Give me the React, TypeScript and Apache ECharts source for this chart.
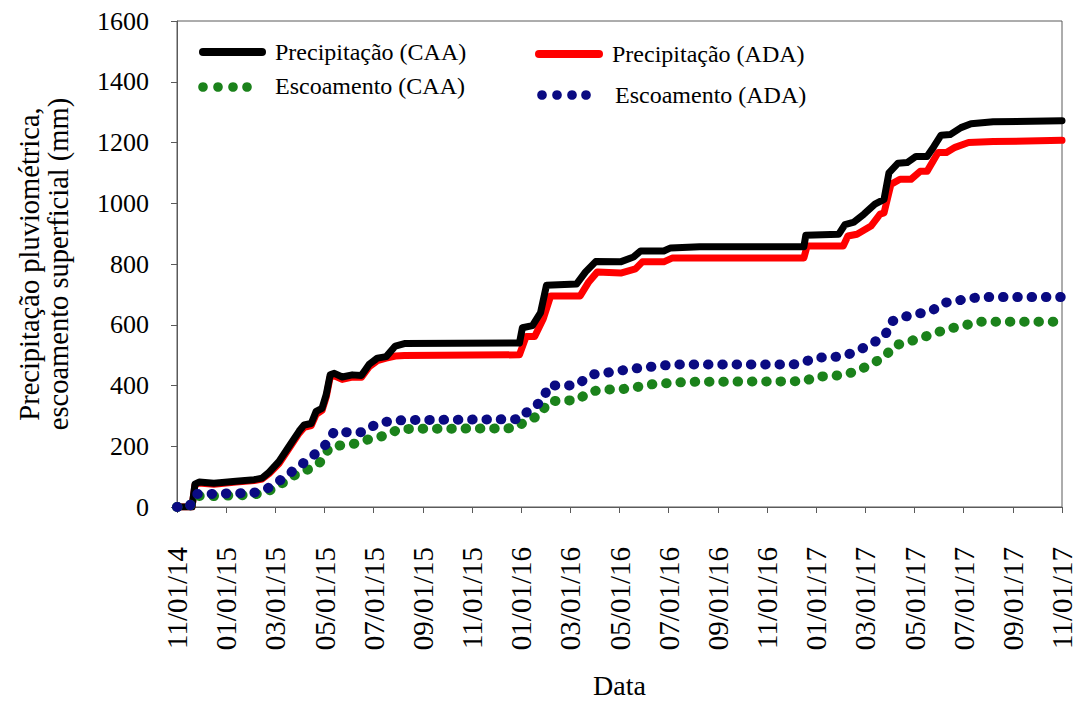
import React, { useEffect, useRef } from "react";
import * as echarts from "echarts";

// x = months since 11/01/14
const tickLabels = [
  "11/01/14", "01/01/15", "03/01/15", "05/01/15", "07/01/15", "09/01/15", "11/01/15",
  "01/01/16", "03/01/16", "05/01/16", "07/01/16", "09/01/16", "11/01/16",
  "01/01/17", "03/01/17", "05/01/17", "07/01/17", "09/01/17", "11/01/17",
];

const precipCAA: [number, number][] = [
  [0, 0], [0.49, 0], [0.61, 0], [0.73, 75], [0.9, 82], [1.5, 78], [2.4, 85], [3.14, 90], [3.46, 95],
  [3.75, 115], [4.15, 150], [4.56, 200], [4.97, 250], [5.17, 270], [5.46, 275], [5.66, 315], [5.9, 325],
  [6.07, 370], [6.23, 435], [6.4, 440], [6.72, 428], [7.13, 435], [7.5, 433], [7.82, 470], [8.15, 490],
  [8.51, 495], [8.88, 530], [9.25, 538], [13.93, 540], [14.05, 590], [14.46, 597], [14.79, 640],
  [15.03, 730], [16.25, 734], [16.62, 774], [17.03, 808], [18.04, 807], [18.57, 823], [18.86, 843],
  [19.8, 843], [20.08, 853], [21.26, 857], [25.5, 857], [25.58, 895], [26.92, 898], [27.17, 930],
  [27.54, 938], [27.94, 964], [28.39, 997], [28.76, 1013], [28.96, 1100], [29.33, 1132], [29.7, 1134],
  [30.06, 1154], [30.51, 1154], [30.79, 1187], [31.08, 1224], [31.45, 1226], [31.89, 1249],
  [32.3, 1262], [33.2, 1268], [36, 1272],
];

const precipADA: [number, number][] = [
  [0, 0], [0.49, 0], [0.61, 0], [0.73, 72], [0.9, 79], [1.5, 75], [2.4, 82], [3.14, 87], [3.46, 92],
  [3.75, 110], [4.15, 143], [4.56, 193], [4.97, 243], [5.17, 262], [5.46, 268], [5.66, 305], [5.9, 318],
  [6.07, 362], [6.23, 428], [6.4, 432], [6.72, 420], [7.13, 428], [7.5, 427], [7.82, 462], [8.15, 482],
  [8.51, 490], [8.88, 497], [9.25, 499], [13.93, 501], [14.2, 561], [14.55, 561], [14.9, 620],
  [15.2, 695], [16.4, 695], [16.75, 741], [17.1, 774], [18.05, 770], [18.65, 784], [18.93, 807],
  [19.8, 807], [20.16, 820], [25.5, 820], [25.63, 859], [27.1, 859], [27.29, 892], [27.66, 898],
  [28.23, 925], [28.6, 964], [28.76, 968], [29.04, 1062], [29.41, 1079], [29.86, 1079], [30.23, 1105],
  [30.51, 1105], [30.96, 1167], [31.3, 1167], [31.65, 1184], [32.2, 1200], [33.2, 1203], [36, 1207],
];

const runoffCAA: [number, number][] = [
  [0, 0], [0.5, 0], [0.75, 36], [1.4, 36], [2.2, 38], [3.1, 40], [3.74, 53], [4.28, 78], [4.85, 108],
  [5.46, 128], [5.9, 152], [6.19, 196], [6.72, 204], [7.29, 209], [7.9, 226], [8.47, 235], [9.04, 257],
  [13.73, 259], [14.18, 282], [14.75, 302], [15.11, 347], [15.64, 351], [16.25, 351], [16.82, 380],
  [17.39, 387], [18.0, 387], [18.61, 393], [19.19, 403], [20.37, 410], [21.0, 412], [25.54, 414],
  [26.0, 430], [26.56, 430], [27.17, 436], [27.7, 449], [28.27, 472], [28.8, 495], [29.16, 531],
  [29.74, 544], [30.3, 557], [30.88, 574], [31.4, 587], [32.0, 597], [32.59, 610], [36, 610],
];

const runoffADA: [number, number][] = [
  [0, 0], [0.5, 0], [0.75, 43], [1.4, 43], [2.2, 45], [3.1, 46], [3.7, 62], [4.2, 88], [4.75, 121],
  [5.3, 154], [5.75, 183], [6.07, 207], [6.4, 249], [6.97, 246], [7.57, 246], [8.1, 273], [8.72, 284],
  [9.3, 286], [13.97, 289], [14.34, 322], [14.87, 349], [15.11, 400], [16.23, 400], [16.86, 436],
  [17.64, 444], [18.62, 456], [19.8, 466], [20.37, 469], [25.05, 469], [25.54, 478], [26.0, 492],
  [26.56, 492], [27.17, 498], [27.7, 515], [28.27, 538], [28.8, 564], [29.04, 610], [29.57, 626],
  [30.14, 636], [30.7, 646], [31.2, 672], [31.77, 680], [32.34, 688], [32.95, 691], [36, 691],
];

const seriesNames = ["Precipitação (CAA)", "Escoamento (CAA)", "Precipitação (ADA)", "Escoamento (ADA)"];
const yAxisTitle = "Precipitação pluviométrica,\nescoamento superficial (mm)";
const xAxisTitle = "Data";

const FONT = "'Liberation Serif', 'Times New Roman', serif";
const GREEN = "#1b821b";
const BLUE = "#0a0a82";
const RED = "#ff0000";

export default function App() {
  const ref = useRef<HTMLDivElement>(null);
  useEffect(() => {
    if (!ref.current) return;
    const chart = echarts.init(ref.current, undefined, { renderer: "svg" });
    const dotted = (color: string) => ({
      color,
      width: 10,
      type: [0.5, 13.8] as any,
      cap: "round" as any,
      join: "round" as any,
    });
    chart.setOption({
      animation: false,
      backgroundColor: "#fff",
      grid: {
        left: 177, right: 20, top: 21, bottom: 195,
        show: true, borderColor: "#5a5a5a", borderWidth: 1,
      },
      xAxis: {
        type: "value", min: 0, max: 36, interval: 2,
        name: xAxisTitle, nameLocation: "middle", nameGap: 164,
        nameTextStyle: { fontFamily: FONT, fontSize: 28, color: "#000" },
        axisLine: { show: true, lineStyle: { color: "#5a5a5a", width: 1 } },
        axisTick: { show: true, length: 6, lineStyle: { color: "#5a5a5a" } },
        splitLine: { show: false },
        axisLabel: {
          rotate: 90, margin: 40, fontFamily: FONT, fontSize: 29, color: "#000",
          formatter: (v: number) => tickLabels[Math.round(v / 2)] ?? "",
        },
      },
      yAxis: {
        type: "value", min: 0, max: 1600, interval: 200,
        name: yAxisTitle, nameLocation: "middle", nameGap: 104, nameRotate: 90,
        nameTextStyle: { fontFamily: FONT, fontSize: 28.5, color: "#000", lineHeight: 29 },
        axisLine: { show: true, lineStyle: { color: "#5a5a5a", width: 1 } },
        axisTick: { show: true, length: 6, lineStyle: { color: "#5a5a5a" } },
        splitLine: { show: false },
        axisLabel: {
          margin: 28, fontFamily: FONT, fontSize: 26, color: "#000",
          formatter: (v: number) => String(v),
        },
      },
      series: [
        {
          name: seriesNames[2], type: "line", data: precipADA, showSymbol: false,
          lineStyle: { color: RED, width: 7, join: "round", cap: "round" }, z: 2,
        },
        {
          name: seriesNames[0], type: "line", data: precipCAA, showSymbol: false,
          lineStyle: { color: "#000", width: 7, join: "round", cap: "round" }, z: 3,
        },
        {
          name: seriesNames[1], type: "line", data: runoffCAA, showSymbol: false,
          lineStyle: dotted(GREEN), z: 4,
        },
        {
          name: seriesNames[3], type: "line", data: runoffADA, showSymbol: false,
          lineStyle: dotted(BLUE), z: 5,
        },
      ],
      graphic: [
        { type: "line", shape: { x1: 203, y1: 52, x2: 262, y2: 52 }, style: { stroke: "#000", lineWidth: 8, lineCap: "round" } },
        { type: "text", x: 275, y: 52, style: { text: seriesNames[0], fontFamily: FONT, fontSize: 24, fill: "#000", verticalAlign: "middle" } },
        ...[203, 218, 233, 247].map((cx) => ({ type: "circle", shape: { cx, cy: 87, r: 4.8 }, style: { fill: GREEN } })),
        { type: "text", x: 275, y: 86, style: { text: seriesNames[1], fontFamily: FONT, fontSize: 24, fill: "#000", verticalAlign: "middle" } },
        { type: "line", shape: { x1: 539, y1: 54, x2: 599, y2: 54 }, style: { stroke: RED, lineWidth: 8, lineCap: "round" } },
        { type: "text", x: 612, y: 54, style: { text: seriesNames[2], fontFamily: FONT, fontSize: 24, fill: "#000", verticalAlign: "middle" } },
        ...[542, 557, 572, 586].map((cx) => ({ type: "circle", shape: { cx, cy: 95, r: 4.8 }, style: { fill: BLUE } })),
        { type: "text", x: 615, y: 95, style: { text: seriesNames[3], fontFamily: FONT, fontSize: 24, fill: "#000", verticalAlign: "middle" } },
      ],
    });
    return () => chart.dispose();
  }, []);
  return (
    <div
      ref={ref}
      style={{ position: "fixed", left: 0, top: 0, width: 1082, height: 704, background: "#fff" }}
    />
  );
}
